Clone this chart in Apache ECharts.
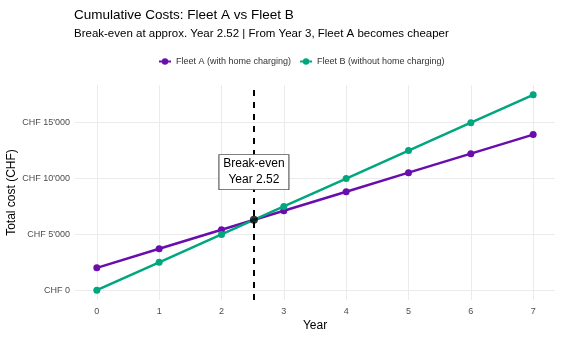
<!DOCTYPE html>
<html>
<head>
<meta charset="utf-8">
<script src="https://cdn.jsdelivr.net/npm/echarts@6/dist/echarts.min.js"></script>
<style>html,body{margin:0;padding:0;background:#fff}#c{width:562px;height:337px}</style>
</head>
<body>
<div id="c"></div>
<script>
const years = [0, 1, 2, 3, 4, 5, 6, 7];
const fleetA = [2000, 3700, 5400, 7100, 8800, 10500, 12200, 13900];
const fleetB = [0, 2494, 4988, 7482, 9976, 12470, 14964, 17458];
const breakEvenYear = 2.52;
const breakEvenCost = 6284;
const labelY = 10550;
const yTicks = [0, 5000, 10000, 15000];
const xTicks = [0, 1, 2, 3, 4, 5, 6, 7];
const nameA = 'Fleet A (with home charging)';
const nameB = 'Fleet B (without home charging)';

function chf(v) {
  return 'CHF ' + String(v).replace(/\B(?=(\d{3})+(?!\d))/g, "'");
}

const chart = echarts.init(document.getElementById('c'), null, {renderer: 'canvas'});
const font = 'Liberation Sans, Arial, sans-serif';
chart.setOption({
  animation: false,
  textStyle: {fontFamily: font},
  title: [
    {text: 'Cumulative Costs: Fleet A vs Fleet B', left: 69, top: 3,
     textStyle: {fontSize: 13.5, fontWeight: 'normal', color: '#000', fontFamily: font}},
    {text: 'Break-even at approx. Year 2.52 | From Year 3, Fleet A becomes cheaper', left: 69, top: 23,
     textStyle: {fontSize: 11.5, fontWeight: 'normal', color: '#000', fontFamily: font}}
  ],
  legend: {
    top: 52, left: 153, itemWidth: 12, itemHeight: 8, itemGap: 8,
    textStyle: {fontSize: 9, color: '#333', fontFamily: font},
    data: [nameA, nameB]
  },
  grid: {left: 75, right: 7, top: 85, bottom: 37, outerBoundsMode: 'none', containLabel: false},
  xAxis: {
    type: 'value', min: -0.35, max: 7.35,
    name: 'Year', nameLocation: 'middle', nameGap: 20, nameMoveOverlap: false,
    nameTextStyle: {fontSize: 12, color: '#000'},
    axisLine: {show: false}, axisTick: {show: false, customValues: xTicks},
    axisLabel: {customValues: xTicks, fontSize: 9, color: '#4d4d4d', margin: 7},
    splitLine: {show: true, lineStyle: {color: '#ebebeb', width: 1}}
  },
  yAxis: {
    type: 'value', min: -873, max: 18331,
    name: 'Total cost (CHF)', nameLocation: 'middle', nameGap: 57, nameMoveOverlap: false,
    nameTextStyle: {fontSize: 12, color: '#000'},
    axisLine: {show: false}, axisTick: {show: false, customValues: yTicks},
    axisLabel: {customValues: yTicks, fontSize: 9, color: '#4d4d4d', margin: 5, formatter: chf},
    splitLine: {show: true, lineStyle: {color: '#ebebeb', width: 1}}
  },
  series: [
    {
      type: 'line', data: [], z: 1,
      markLine: {
        silent: true, symbol: 'none', label: {show: false}, z: 1,
        lineStyle: {color: '#000', type: [6, 6], width: 2},
        data: [{xAxis: breakEvenYear}]
      }
    },
    {
      name: nameA, type: 'line', data: years.map((y, i) => [y, fleetA[i]]),
      color: '#6a0dad', lineStyle: {width: 2.5}, symbol: 'circle', symbolSize: 7, z: 3
    },
    {
      name: nameB, type: 'line', data: years.map((y, i) => [y, fleetB[i]]),
      color: '#00a67e', lineStyle: {width: 2.5}, symbol: 'circle', symbolSize: 7, z: 3
    },
    {
      type: 'scatter', data: [[breakEvenYear, breakEvenCost]], symbolSize: 8,
      itemStyle: {color: '#000'}, z: 5
    },
    {
      type: 'scatter', data: [[breakEvenYear, labelY]], symbol: 'rect', symbolSize: [70, 35],
      z: 10, zlevel: 1,
      itemStyle: {color: '#fff', borderColor: '#555', borderWidth: 0.8, opacity: 1},
      label: {
        show: true, position: 'inside', formatter: 'Break-even\nYear 2.52',
        fontSize: 12, color: '#000', lineHeight: 16, align: 'center'
      }
    }
  ]
});
</script>
</body>
</html>
